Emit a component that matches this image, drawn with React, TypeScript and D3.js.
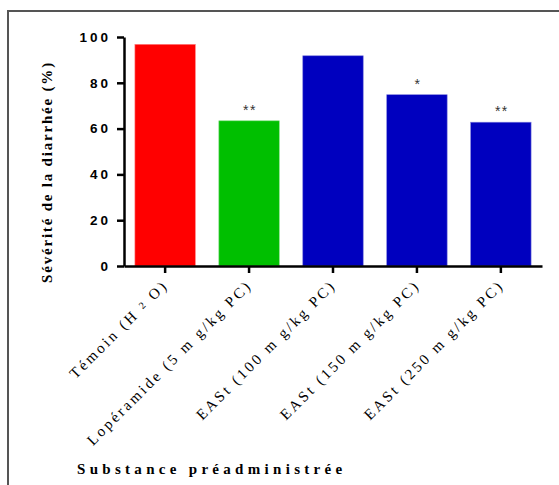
import React, { useEffect, useRef } from "react";
import * as d3 from "d3";

const categories = [
  "Témoin (H2O)",
  "Lopéramide (5 mg/kg PC)",
  "EASt (100 mg/kg PC)",
  "EASt (150 mg/kg PC)",
  "EASt (250 mg/kg PC)",
];
const values = [96.8, 63.4, 91.8, 74.8, 62.8];
const stars = ["", "**", "", "*", "**"];
const colors = ["#ff0000", "#00bf00", "#0000bf", "#0000bf", "#0000bf"];
const yTicks = [0, 20, 40, 60, 80, 100];

const W = 559;
const H = 485;

const App = () => {
  const ref = useRef<SVGSVGElement>(null);

  useEffect(() => {
    const svg = d3.select(ref.current);
    svg.selectAll("*").remove();

    const x = d3
      .scaleBand()
      .domain(categories)
      .range([124, 542])
      .paddingInner(0.28)
      .paddingOuter(0.13);

    const y = d3.scaleLinear().domain([0, 100]).range([266, 37]);

    // frame
    svg
      .append("path")
      .attr("d", `M8,${H} L8,11 L${W},11`)
      .attr("fill", "none")
      .attr("stroke", "#555")
      .attr("stroke-width", 2);

    svg
      .selectAll(".bar")
      .data(values)
      .enter()
      .append("rect")
      .attr("class", "bar")
      .attr("x", (d, i) => x(categories[i])!)
      .attr("y", (d) => y(d))
      .attr("width", x.bandwidth())
      .attr("height", (d) => y(0) - y(d))
      .attr("fill", (d, i) => colors[i])
      .attr("stroke", (d, i) => (i === 0 ? "#ff8080" : i === 1 ? "#80df80" : "#8080df"))
      .attr("stroke-width", 0.6);

    svg
      .selectAll(".star")
      .data(values)
      .enter()
      .append("text")
      .attr("x", (d, i) => x(categories[i])! + x.bandwidth() / 2 + 1)
      .attr("y", (d) => y(d) - 6)
      .attr("text-anchor", "middle")
      .attr("font-family", "Liberation Sans, Arial, sans-serif")
      .attr("font-size", 14)
      .attr("letter-spacing", 1.5)
      .attr("fill", "#333")
      .text((d, i) => stars[i]);

    // y axis
    const yAxis = svg
      .append("g")
      .attr("transform", "translate(124,0)")
      .call(d3.axisLeft(y).tickValues(yTicks).tickSize(7).tickSizeOuter(0));
    yAxis.select(".domain").attr("stroke", "#000").attr("stroke-width", 2.5);
    yAxis.selectAll(".tick line").attr("stroke", "#000").attr("stroke-width", 2.5);
    yAxis
      .selectAll(".tick text")
      .attr("x", -13)
      .attr("font-family", "Liberation Sans, Arial, sans-serif")
      .attr("font-weight", "bold")
      .attr("font-size", 13.5)
      .attr("letter-spacing", 3)
      .attr("fill", "#000");

    // x axis
    const xAxis = svg
      .append("g")
      .attr("transform", "translate(0,266)")
      .call(d3.axisBottom(x).tickSize(7).tickSizeOuter(0).tickFormat(() => ""));
    xAxis.select(".domain").attr("stroke", "#000").attr("stroke-width", 2.5);
    xAxis.selectAll(".tick line").attr("stroke", "#000").attr("stroke-width", 2.5);

    const labels = svg.append("g");
    categories.forEach((c) => {
      const cx = x(c)! + x.bandwidth() / 2;
      const t = labels
        .append("text")
        .attr("transform", `translate(${cx + 4},${286}) rotate(-45)`)
        .attr("text-anchor", "end")
        .attr("font-family", "Liberation Serif, Times New Roman, serif")
        .attr("font-size", 15)
        .attr("letter-spacing", 2.7)
        .attr("fill", "#000");
      if (c.includes("H2O")) {
        t.append("tspan").text("Témoin (H ");
        t.append("tspan").attr("font-size", 10).attr("dy", -2).text("2");
        t.append("tspan").attr("dy", 2).text(" O)");
      } else {
        t.text(c.replace("mg/kg", "m g/kg"));
      }
    });

    svg
      .append("text")
      .attr("transform", `translate(52,172) rotate(-90)`)
      .attr("text-anchor", "middle")
      .attr("font-family", "Liberation Serif, Times New Roman, serif")
      .attr("font-weight", "bold")
      .attr("font-size", 15)
      .attr("letter-spacing", 1.8)
      .attr("fill", "#000")
      .text("Sévérité de la diarrhée (%)");

    svg
      .append("text")
      .attr("x", 77)
      .attr("y", 474)
      .attr("font-family", "Liberation Serif, Times New Roman, serif")
      .attr("font-weight", "bold")
      .attr("font-size", 15)
      .attr("letter-spacing", 4.3)
      .attr("fill", "#000")
      .text("Substance préadministrée");
  }, []);

  return (
    <svg
      ref={ref}
      width={W}
      height={H}
      style={{ position: "absolute", left: 0, top: 0, background: "#fff" }}
    ></svg>
  );
};

export default App;
